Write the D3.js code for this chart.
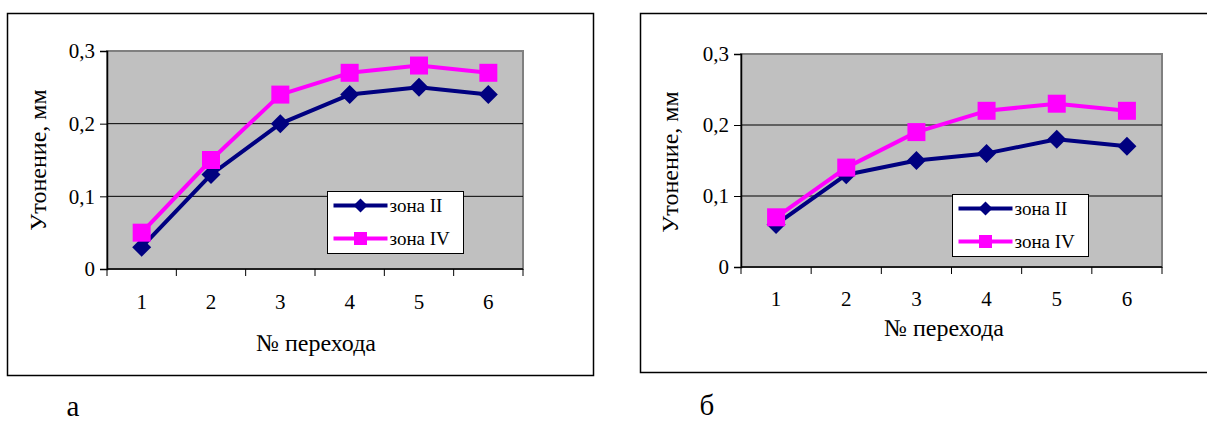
<!DOCTYPE html>
<html>
<head>
<meta charset="utf-8">
<script src="https://cdn.jsdelivr.net/npm/d3@7"></script>
<style>
  body { margin: 0; background: #fff; }
  svg { display: block; }
  svg text { font-family: "Liberation Serif", "Times New Roman", Times, "DejaVu Serif", serif !important; fill: #000; }
</style>
</head>
<body>
<div id="chart"></div>
<script>
// categories (№ перехода)
const categories = [1, 2, 3, 4, 5, 6];
const yTicks = [0, 0.1, 0.2, 0.3];

// panel "а"
const zone2A = [0.03, 0.13, 0.20, 0.24, 0.25, 0.24];
const zone4A = [0.05, 0.15, 0.24, 0.27, 0.28, 0.27];

// panel "б"
const zone2B = [0.06, 0.13, 0.15, 0.16, 0.18, 0.17];
const zone4B = [0.07, 0.14, 0.19, 0.22, 0.23, 0.22];

const seriesNames = ["зона II", "зона IV"];
const yTitle = "Утонение, мм";
const xTitle = "№ перехода";

const navy = "#000080";
const pink = "#ff00ff";

const svg = d3.select("#chart").append("svg")
    .attr("width", 1207)
    .attr("height", 422);

const fmt = d => d === 0 ? "0" : d3.format(".1f")(d).replace(".", ",");

// excel style markers: square, and square turned 45deg for the diamond
function marker(shape, size) {
    let side = shape === "square" ? size : size / Math.SQRT2;
    return {
        d: d3.symbol(d3.symbolSquare, side * side)(),
        rot: shape === "square" ? 0 : 45
    };
}

function drawPanel(o) {
    // outer frame
    svg.append("rect")
        .attr("x", o.frame[0]).attr("y", o.frame[1])
        .attr("width", o.frame[2]).attr("height", o.frame[3])
        .attr("fill", "#fff").attr("stroke", "#000").attr("stroke-width", 1.5);

    let x = d3.scaleBand().domain(categories).range([o.left, o.right]);
    let y = d3.scaleLinear().domain([0, 0.3]).range([o.bottom, o.top]);

    // plot area
    svg.append("rect")
        .attr("x", o.left).attr("y", o.top)
        .attr("width", o.right - o.left).attr("height", o.bottom - o.top)
        .attr("fill", "#c0c0c0").attr("stroke", "#808080").attr("stroke-width", 2);

    // gridlines
    svg.append("g").selectAll("line")
        .data(yTicks.filter(d => d > 0 && d < 0.3))
        .enter().append("line")
        .attr("x1", o.left).attr("x2", o.right)
        .attr("y1", d => y(d)).attr("y2", d => y(d))
        .attr("stroke", "#000").attr("stroke-width", 1);

    // y axis
    let yAxis = svg.append("g")
        .attr("transform", `translate(${o.left},0)`)
        .call(d3.axisLeft(y).tickValues(yTicks).tickFormat(fmt).tickSize(7).tickPadding(5));
    yAxis.attr("font-family", null).attr("font-size", null);
    yAxis.select(".domain").attr("stroke", "#000").attr("stroke-width", 1.5);
    yAxis.selectAll("text").style("font-size", "21px");

    // x axis: ticks sit between categories
    let xAxis = svg.append("g")
        .attr("transform", `translate(0,${o.bottom})`);
    xAxis.append("line")
        .attr("x1", o.left).attr("x2", o.right)
        .attr("stroke", "#000").attr("stroke-width", 1.5);
    xAxis.selectAll(".tk")
        .data(categories.concat([null]))
        .enter().append("line")
        .attr("class", "tk")
        .attr("x1", (d, i) => i < categories.length ? x(d) : o.right)
        .attr("x2", (d, i) => i < categories.length ? x(d) : o.right)
        .attr("y1", 0).attr("y2", 7)
        .attr("stroke", "#000");
    xAxis.selectAll(".lbl")
        .data(categories)
        .enter().append("text")
        .attr("class", "lbl")
        .attr("x", d => x(d) + x.bandwidth() / 2)
        .attr("y", o.tickLabelY - o.bottom)
        .attr("text-anchor", "middle")
        .style("font-size", "21px")
        .text(d => d);

    // axis titles
    svg.append("text")
        .attr("x", o.xTitle[0]).attr("y", o.xTitle[1])
        .attr("text-anchor", "middle")
        .style("font-size", "24px")
        .text(xTitle);
    svg.append("text")
        .attr("transform", `translate(${o.yTitle[0]},${o.yTitle[1]}) rotate(-90)`)
        .attr("text-anchor", "middle")
        .style("font-size", "24px")
        .text(yTitle);

    const cx = (d, i) => x(categories[i]) + x.bandwidth() / 2;
    const line = d3.line().x(cx).y(d => y(d));

    // series
    [[o.zone2, navy, "diamond", 19], [o.zone4, pink, "square", 18]].forEach(([vals, color, shape, size]) => {
        let m = marker(shape, size);
        svg.append("path")
            .datum(vals)
            .attr("d", line)
            .attr("fill", "none")
            .attr("stroke", color)
            .attr("stroke-width", 4)
            .attr("stroke-linejoin", "round");
        svg.append("g").selectAll("path")
            .data(vals)
            .enter().append("path")
            .attr("transform", (d, i) => `translate(${cx(d, i)},${y(d)}) rotate(${m.rot})`)
            .attr("d", m.d)
            .attr("fill", color);
    });

    // legend
    let lg = svg.append("g").attr("transform", `translate(${o.legend[0]},${o.legend[1]})`);
    lg.append("rect")
        .attr("width", 136).attr("height", 62)
        .attr("fill", "#fff").attr("stroke", "#000").attr("stroke-width", 1);
    [[navy, "diamond", 14], [pink, "square", 13]].forEach(([color, shape, size], i) => {
        let row = 14 + i * 33;
        let m = marker(shape, size);
        lg.append("line")
            .attr("x1", 6).attr("x2", 60).attr("y1", row).attr("y2", row)
            .attr("stroke", color).attr("stroke-width", 4);
        lg.append("path")
            .attr("transform", `translate(33,${row}) rotate(${m.rot})`)
            .attr("d", m.d)
            .attr("fill", color);
        lg.append("text")
            .attr("x", 62).attr("y", row + 6)
            .style("font-size", "19px")
            .text(seriesNames[i]);
    });

    // panel letter
    svg.append("text")
        .attr("x", o.letter[0]).attr("y", o.letter[1])
        .attr("text-anchor", "middle")
        .style("font-size", "29px")
        .text(o.letterText);
}

drawPanel({
    frame: [7.5, 13.5, 586, 362],
    left: 107, right: 523, top: 51, bottom: 269,
    tickLabelY: 309,
    xTitle: [316, 351],
    yTitle: [46, 160],
    legend: [327.5, 191.5],
    zone2: zone2A, zone4: zone4A,
    letter: [73, 416], letterText: "а"
});

drawPanel({
    frame: [640.5, 13.5, 580, 359],
    left: 741, right: 1162, top: 54, bottom: 267,
    tickLabelY: 306,
    xTitle: [944, 336],
    yTitle: [678, 162],
    legend: [952.5, 194.5],
    zone2: zone2B, zone4: zone4B,
    letter: [707, 415], letterText: "б"
});
</script>
</body>
</html>
